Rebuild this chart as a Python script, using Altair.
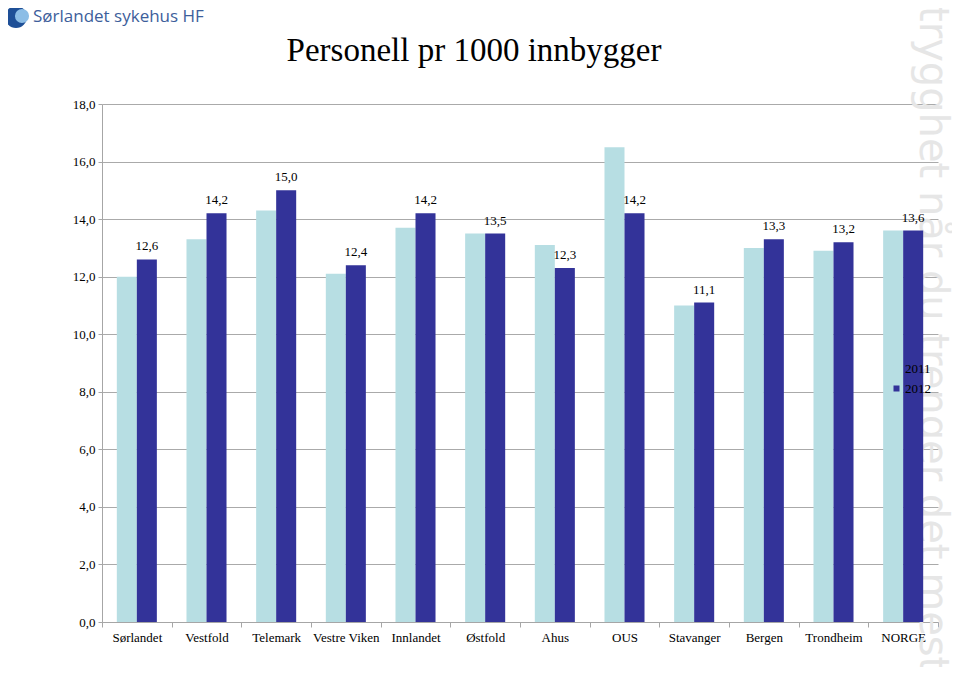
import altair as alt
import pandas as pd

categories = ["Sørlandet", "Vestfold", "Telemark", "Vestre Viken", "Innlandet",
              "Østfold", "Ahus", "OUS", "Stavanger", "Bergen", "Trondheim", "NORGE"]
values_2011 = [12.0, 13.3, 14.3, 12.1, 13.7, 13.5, 13.1, 16.5, 11.0, 13.0, 12.9, 13.6]
values_2012 = [12.6, 14.2, 15.0, 12.4, 14.2, 13.5, 12.3, 14.2, 11.1, 13.3, 13.2, 13.6]
years = ["2011", "2012"]
colors = ["#B7DEE3", "#333399"]
y_ticks = [0, 2, 4, 6, 8, 10, 12, 14, 16, 18]

rows = []
for c, a, b in zip(categories, values_2011, values_2012):
    rows.append({"kategori": c, "år": "2011", "verdi": a})
    rows.append({"kategori": c, "år": "2012", "verdi": b})
df = pd.DataFrame(rows)

serif = "Liberation Serif"

x_enc = alt.X("kategori:N", sort=categories, title=None,
              scale=alt.Scale(paddingInner=0, paddingOuter=0),
              axis=alt.Axis(labelAngle=0, labelFont=serif, labelFontSize=13,
                            labelColor="#000000", tickBand="extent", tickSize=5,
                            tickColor="#A6A6A6", domainColor="#A6A6A6",
                            labelPadding=4, grid=False))
xoff = alt.XOffset("år:N", scale=alt.Scale(domain=years, paddingInner=0, paddingOuter=0.74))
y_enc = alt.Y("verdi:Q", title=None,
              scale=alt.Scale(domain=[0, 18], nice=False),
              axis=alt.Axis(values=y_ticks,
                            labelExpr="replace(format(datum.value, '.1f'), '.', ',')",
                            labelFont=serif, labelFontSize=13, labelColor="#000000",
                            tickSize=4, tickColor="#A6A6A6", domainColor="#A6A6A6",
                            gridColor="#AAAAAA", gridWidth=1, labelPadding=3))

bars = alt.Chart(df).mark_bar().encode(
    x=x_enc, xOffset=xoff, y=y_enc,
    color=alt.Color("år:N", scale=alt.Scale(domain=years, range=colors), title=None,
                    legend=alt.Legend(orient="none", legendX=788, legendY=258,
                                      symbolType="square", symbolSize=36,
                                      labelFont=serif, labelFontSize=13,
                                      labelColor="#000000", rowPadding=6,
                                      labelOffset=2, symbolStrokeWidth=0)),
)

labels = alt.Chart(df).transform_filter(alt.datum["år"] == "2012").transform_calculate(
    lbl="replace(format(datum.verdi, '.1f'), '.', ',')"
).mark_text(font=serif, fontSize=13, baseline="bottom", dy=-6, color="#000000").encode(
    x=alt.X("kategori:N", sort=categories),
    xOffset=xoff,
    y="verdi:Q",
    text="lbl:N",
)

title_df = pd.DataFrame({"t": ["Personell pr 1000 innbygger"]})
title = alt.Chart(title_df).mark_text(font=serif, fontSize=33, align="center",
                                      baseline="alphabetic", color="#000000").encode(
    text="t:N", x=alt.value(372), y=alt.value(-43))

logo_df = pd.DataFrame({"t": ["Sørlandet sykehus HF"]})
logo = alt.Chart(logo_df).mark_text(font="Open Sans", fontSize=17, align="left",
                                    baseline="middle", color="#3D5E9B").encode(
    text="t:N", x=alt.value(-69), y=alt.value(-87))
icon1 = alt.Chart(logo_df).mark_point(filled=True, shape="circle", size=480,
                                      color="#1E4F97", opacity=1).encode(
    x=alt.value(-86), y=alt.value(-87))
icon2 = alt.Chart(logo_df).mark_point(filled=True, shape="circle", size=200,
                                      color="#8CBDE6", opacity=1).encode(
    x=alt.value(-80), y=alt.value(-88))

wm_df = pd.DataFrame({"t": ["trygghet når du trenger det mest"]})
watermark = alt.Chart(wm_df).mark_text(font="DejaVu Sans", fontSize=40, angle=90,
                                       align="left", baseline="middle",
                                       color="#E6E6E6", fontWeight="normal").encode(
    text="t:N", x=alt.value(830), y=alt.value(-98))

chart = alt.layer(watermark, bars, labels, title, icon1, icon2, logo).properties(
    width=836, height=518,
    autosize=alt.AutoSizeParams(type="none"),
    padding={"left": 94, "top": 96, "right": 14, "bottom": 45},
).configure_view(stroke=None).configure_axis(domainWidth=1)

chart.save("out.html", embed_options={"renderer": "svg", "actions": False})
